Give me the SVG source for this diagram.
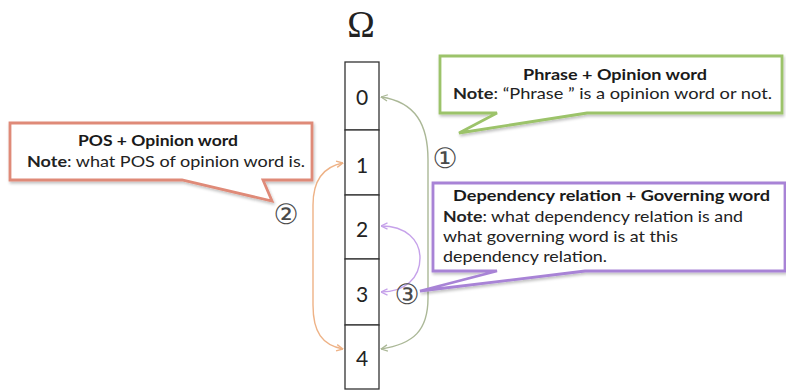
<svg xmlns="http://www.w3.org/2000/svg" width="786" height="390" viewBox="0 0 786 390">
  <style>
    .cell { fill: #ffffff; stroke: #333333; stroke-width: 1.3; }
    .idx { font-family: Lato, "Open Sans", sans-serif; font-size: 21px; fill: #222222; text-anchor: middle; }
    .title { font-family: Lato, "Open Sans", sans-serif; font-size: 15px; font-weight: bold; fill: #1a1a1a; }
    .note { font-family: Lato, "Open Sans", sans-serif; font-size: 15px; fill: #222222; }
    .note .b { font-weight: bold; }
    .num { font-family: "DejaVu Sans", sans-serif; font-size: 28px; fill: #4a4a4a; text-anchor: middle; }
    .call { fill: #ffffff; stroke-width: 2.8; stroke-linejoin: miter; filter: url(#shadow); }
    .arc { fill: none; stroke-width: 1.4; }
  </style>
  <defs>
    <filter id="shadow" x="-5%" y="-20%" width="110%" height="150%">
      <feGaussianBlur in="SourceAlpha" stdDeviation="1.6"/>
      <feOffset dx="1" dy="2" result="b"/>
      <feComponentTransfer><feFuncA type="linear" slope="0.25"/></feComponentTransfer>
      <feMerge><feMergeNode/><feMergeNode in="SourceGraphic"/></feMerge>
    </filter>
    <marker id="mGreen" viewBox="0 0 8 8" refX="7.5" refY="4" markerWidth="8" markerHeight="8" markerUnits="userSpaceOnUse" orient="auto-start-reverse">
      <path d="M1,0.8 L7.5,4 L1,7.2" fill="none" stroke="#abb897" stroke-width="1.3"/>
    </marker>
    <marker id="mOrange" viewBox="0 0 8 8" refX="7.5" refY="4" markerWidth="8" markerHeight="8" markerUnits="userSpaceOnUse" orient="auto-start-reverse">
      <path d="M1,0.8 L7.5,4 L1,7.2" fill="none" stroke="#eeb286" stroke-width="1.3"/>
    </marker>
    <marker id="mPurple" viewBox="0 0 8 8" refX="7.5" refY="4" markerWidth="8" markerHeight="8" markerUnits="userSpaceOnUse" orient="auto-start-reverse">
      <path d="M1,0.8 L7.5,4 L1,7.2" fill="none" stroke="#c6a2ea" stroke-width="1.3"/>
    </marker>
  </defs>

  <rect width="786" height="390" fill="#ffffff"/>

  <!-- Omega label above the array -->
  <text x="361" y="37" font-family="'Liberation Serif', serif" font-size="37" text-anchor="middle" fill="#222222">Ω</text>

  <!-- index array -->
  <g id="array">
    <g id="cell0"><rect class="cell" x="345" y="62" width="34" height="68"/><text class="idx" x="362" y="105">0</text></g>
    <g id="cell1"><rect class="cell" x="345" y="130" width="34" height="65"/><text class="idx" x="362" y="173">1</text></g>
    <g id="cell2"><rect class="cell" x="345" y="195" width="34" height="64"/><text class="idx" x="362" y="237">2</text></g>
    <g id="cell3"><rect class="cell" x="345" y="259" width="34" height="66"/><text class="idx" x="362" y="302">3</text></g>
    <g id="cell4"><rect class="cell" x="345" y="325" width="34" height="64"/><text class="idx" x="362" y="366">4</text></g>
  </g>

  <!-- connectors -->
  <g id="connectors">
    <path class="arc" stroke="#abb897" marker-start="url(#mGreen)" marker-end="url(#mGreen)"
          d="M381,97 C416,102 428,125 428,160 L428,298 C428,330 414,344 381,349"/>
    <path class="arc" stroke="#eeb286" marker-start="url(#mOrange)" marker-end="url(#mOrange)"
          d="M343,163 C322,167 313,182 313,205 L313,305 C313,332 322,345 343,349"/>
    <path class="arc" stroke="#c6a2ea" marker-start="url(#mPurple)" marker-end="url(#mPurple)"
          d="M381,226 C406,226 420,240 420,258 C420,278 405,292 381,292"/>
  </g>

  <!-- callout 1: phrase -->
  <g id="callout-phrase">
    <path class="call" stroke="#9cc36a" d="M440,56 H782 V113 H587 L459,133 L497,113 H440 Z"/>
    <text class="title" x="615" y="80" text-anchor="middle" textLength="184" lengthAdjust="spacingAndGlyphs">Phrase + Opinion word</text>
    <text class="note" x="453" y="99" textLength="319" lengthAdjust="spacingAndGlyphs"><tspan class="b">Note</tspan>: “Phrase ” is a opinion word or not.</text>
    <text class="num" x="445" y="168">①</text>
  </g>

  <!-- callout 2: POS -->
  <g id="callout-pos">
    <path class="call" stroke="#df8a78" d="M10,123 H312 V180 H263 L272,201 L182,180 H10 Z"/>
    <text class="title" x="158" y="146" text-anchor="middle" textLength="160" lengthAdjust="spacingAndGlyphs">POS + Opinion word</text>
    <text class="note" x="27" y="167" textLength="278" lengthAdjust="spacingAndGlyphs"><tspan class="b">Note</tspan>: what POS of opinion word is.</text>
    <text class="num" x="286" y="224">②</text>
  </g>

  <!-- callout 3: dependency -->
  <g id="callout-dependency">
    <path class="call" stroke="#a883d6" d="M433,183 H785 V271 H585 L420,291 L497,271 H433 Z"/>
    <text class="title" x="453" y="201" textLength="317" lengthAdjust="spacingAndGlyphs">Dependency relation + Governing word</text>
    <text class="note" x="443" y="222" textLength="300" lengthAdjust="spacingAndGlyphs"><tspan class="b">Note</tspan>: what dependency relation is and</text>
    <text class="note" x="443" y="242" textLength="235" lengthAdjust="spacingAndGlyphs">what governing word is at this</text>
    <text class="note" x="443" y="262" textLength="164" lengthAdjust="spacingAndGlyphs">dependency relation.</text>
    <text class="num" x="407" y="304">③</text>
  </g>
</svg>
